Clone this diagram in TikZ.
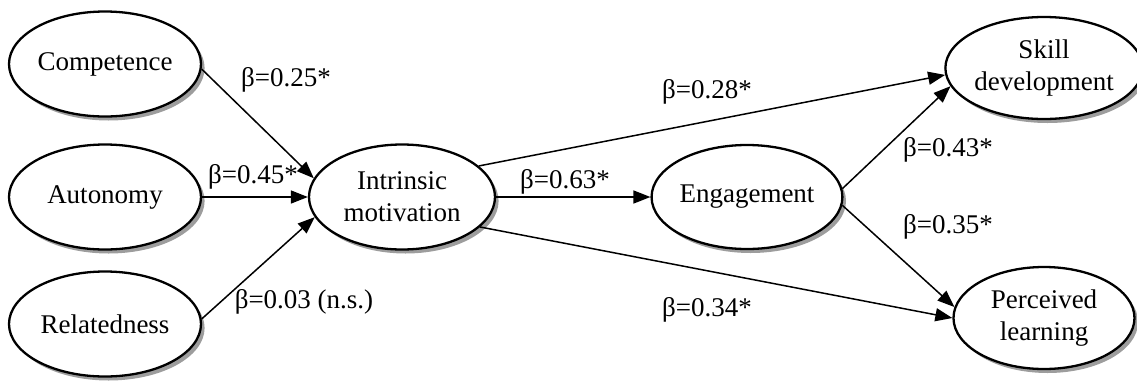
\documentclass[tikz,border=0pt]{standalone}
\usepackage{fontspec}
\setmainfont{Liberation Serif}
\usetikzlibrary{shapes.geometric,shadows,arrows.meta}
\begin{document}
\begin{tikzpicture}[x=0.5pt,y=-0.5pt,
  var/.style={ellipse,draw,line width=1.15pt,fill=white,minimum width=96pt,minimum height=52.5pt,
    inner sep=0pt,align=center,font=\fontsize{13.5}{16}\selectfont,
    drop shadow={shadow xshift=1.8pt,shadow yshift=-2pt,fill=black!45,opacity=0.85}},
  arr/.style={-{Triangle[length=8.5pt,width=6.5pt]},line width=0.75pt},
  lab/.style={font=\fontsize{13.5}{16}\selectfont,inner sep=0pt}]
\useasboundingbox (0,0) rectangle (1137,381);
\node[var] (comp) at (105,64) {Competence};
\node[var] (auto) at (105,197) {Autonomy};
\node[var] (rel) at (105,324) {Relatedness};
\node[var,minimum width=93pt] (im) at (402,197) {Intrinsic\\motivation};
\node[var,minimum width=95pt,minimum height=52pt] (eng) at (747,197) {Engagement};
\node[var,minimum width=90.5pt,minimum height=51pt] (skill) at (1044,68) {Skill\\development};
\node[var,minimum width=90.5pt,minimum height=51pt] (perc) at (1044,318) {Perceived\\learning};

\draw[arr] (comp.-3) -- (im.168);
\draw[arr] (auto.east) -- (im.west);
\draw[arr] (rel.3) -- (im.193);
\draw[arr] (im.east) -- (eng.west);
\draw[arr] (im.22) -- (skill.184);
\draw[arr] (im.-21) -- (perc.180);
\draw[arr] (eng.5) -- (skill.191);
\draw[arr] (eng.-5) -- (perc.173);

\node[lab] (l1) at (286,80) {β=0.25*};
\node[lab] (l2) at (253,177) {β=0.45*};
\node[lab] (l3) at (304,302) {β=0.03 (n.s.)};
\node[lab] (l4) at (565,182) {β=0.63*};
\node[lab] (l5) at (707,92) {β=0.28*};
\node[lab] (l6) at (948,150) {β=0.43*};
\node[lab] (l7) at (948,227) {β=0.35*};
\node[lab] (l8) at (707,310) {β=0.34*};
\end{tikzpicture}
\end{document}
